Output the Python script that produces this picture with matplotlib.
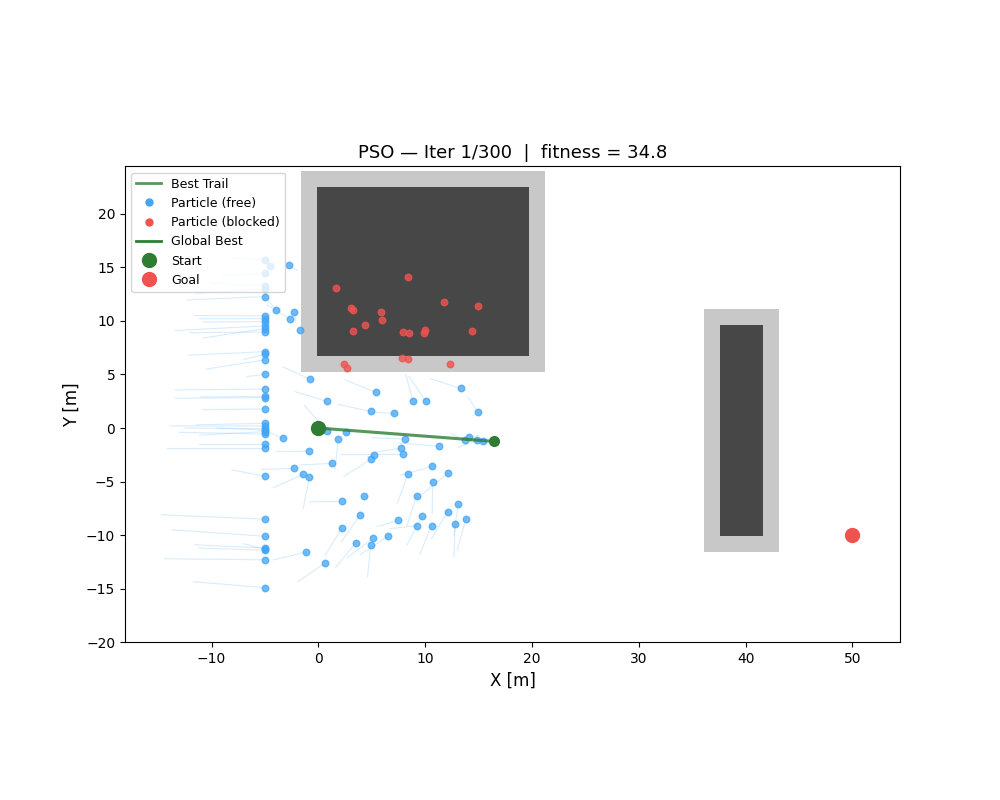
import matplotlib
matplotlib.use("Agg")
import matplotlib.pyplot as plt
from matplotlib.patches import Rectangle
from matplotlib.lines import Line2D

# ---------------- data ----------------
start = (0.0, 0.0)
goal = (50.0, -10.0)
gbest = (16.45, -1.25)
best_trail_x = [0.0, 16.45]
best_trail_y = [0.0, -1.25]

# obstacles: (x0, y0, width, height) core ; inflation margin
obstacles = [(-0.1, 6.75, 19.8, 15.75), (37.6, -10.05, 4.0, 19.65)]
margin = 1.5

# free particles: current x, y and previous x, y (tail)
free_x = [-5, -5, -5, -5, -5, -5, -5, -5, -5, -5, -5, -5, -5, -5, -5, -5, -5, -5,
          -5, -5, -5, -5, -5, -5, -5, -5, -5, -5, -5, -5, -5, -5, -5, -5, -5,
          -4.53, -2.72, -3.94, -2.26, -2.63, -1.7, -0.81, 5.38, 0.78, 8.85, 10.07,
          13.35, 14.95, 4.9, 7.07, -3.35, 0.8, 2.57, 1.87, 8.1, -0.85, 7.72, 7.9,
          11.29, 4.9, 5.19, 1.3, -2.26, -1.41, -0.85, 10.66, 8.38, 12.13, 13.72,
          14.13, 14.89, 15.41, 2.19, 4.25, 3.88, 2.19, -1.19, 0.6, 3.5, 5.1, 4.9,
          6.5, 7.5, 9.2, 10.7, 9.7, 9.2, 10.6, 12.1, 13.07, 12.8, 13.8]
free_y = [15.7, 14.46, 13.3, 12.95, 12.27, 10.47, 10.21, 9.93, 9.53, 9.28, 8.97,
          7.13, 6.88, 6.36, 5.01, 3.64, 2.84, 2.95, 1.78, 0.44, 0.19, -0.06, -0.34,
          -0.56, -1.5, -1.9, -4.5, -8.5, -10.1, -11.2, -11.4, -11.3, -12.3, -14.9,
          -0.2,
          15.14, 15.23, 11.03, 10.81, 10.15, 9.15, 4.58, 3.33, 2.5, 2.5, 2.5,
          3.7, 1.46, 1.55, 1.37, -0.95, -0.25, -0.4, -1.05, -1.03, -2.17, -1.87, -2.46,
          -1.71, -2.93, -2.55, -3.3, -3.77, -4.33, -4.61, -3.58, -4.33, -4.23, -1.15,
          -0.87, -1.12, -1.24, -6.85, -6.38, -8.16, -9.37, -11.6, -12.6, -10.7, -10.3, -10.96,
          -10.1, -8.6, -6.3, -5.0, -8.25, -9.1, -9.1, -7.8, -7.1, -9.0, -8.5]
prev_x = [-8, -9, -10, -11.5, -12.3, -11.55, -11.1, -10.8, -13.4, -10.8, -12.0,
          -12.15, -7.0, -10.5, -6.7, -13.4, -13.4, -11.0, -10.9, -11.4, -13.9, -12.5, -11.1,
          -13.0, -11.2, -14.2, -8.1, -14.7, -13.7, -11.55, -11.2, -7.0, -14.4, -11.7,
          -9.5,
          -4.0, -2.0, -5.0, -2.1, -4.8, -1.6, -3.3, 2.5, -2.2, 8.2, 8.5,
          10.5, 14.0, 1.9, 4.9, -4.7, -1.3, 3.0, 1.55, 5.0, -3.9, 5.0, 2.06,
          7.5, 2.4, 4.6, -1.72, -5.3, -4.2, -1.41, 7.7, 7.4, 9.7, 12.5,
          15.0, 13.1, 15.8, -0.8, 4.4, 2.16, 0.62, -4.2, -1.9, 1.6, 2.7, 4.6,
          3.94, 5.5, 8.3, 10.66, 8.3, 6.7, 9.5, 10.6, 12.7, 12.7, 13.0]
prev_y = [15.9, 14.2, 13.5, 12.6, 11.96, 10.5, 10.2, 9.9, 9.1, 8.4, 8.9,
          6.8, 6.4, 5.5, 4.8, 3.55, 2.78, 2.9, 1.7, 0.3, 0.2, 0.0, -0.65,
          -0.4, -1.5, -1.9, -3.9, -8.1, -9.5, -10.9, -11.2, -10.8, -12.2, -14.35,
          0.0,
          15.0, 14.7, 12.2, 9.9, 11.5, 9.3, 5.7, 4.5, 3.4, 5.0, 4.8,
          4.6, 2.9, 2.2, 1.5, -0.35, 2.1, -0.3, -3.85, -0.9, -2.2, -2.3, -2.46,
          -1.4, -4.5, -2.7, -3.45, -3.86, -5.55, -7.5, -4.4, -7.0, -6.2, -0.55,
          -0.7, -1.8, -1.2, -6.9, -6.4, -10.6, -11.9, -12.3, -14.35, -13.05, -12.1, -13.9,
          -11.8, -9.2, -9.1, -8.0, -10.9, -9.4, -11.8, -10.3, -10.0, -12.0, -11.4]

# blocked particles
blocked_x = [1.63, 8.38, 3.04, 3.22, 5.85, 5.94, 4.35, 3.22, 11.76, 14.95, 7.88,
             8.47, 9.97, 9.88, 14.38, 2.37, 2.66, 7.79, 8.38, 12.32]
blocked_y = [13.05, 14.08, 11.2, 11.0, 10.8, 10.06, 9.6, 9.03, 11.75, 11.37, 8.94,
             8.85, 9.13, 8.85, 9.03, 5.98, 5.58, 6.51, 6.42, 5.95]

title = "PSO — Iter 1/300  |  fitness = 34.8"

# ---------------- plot ----------------
fig = plt.figure(figsize=(10, 8), dpi=100)
ax = fig.add_axes([0.125, 157.7 / 800, 0.775, 476.0 / 800])

for (x0, y0, w, h) in obstacles:
    ax.add_patch(Rectangle((x0 - margin, y0 - margin), w + 2 * margin, h + 2 * margin,
                           facecolor="#c8c8c8", edgecolor="none", zorder=1))
    ax.add_patch(Rectangle((x0, y0), w, h, facecolor="#474747", edgecolor="none", zorder=2))

for px, py, qx, qy in zip(prev_x, prev_y, free_x, free_y):
    ax.plot([px, qx], [py, qy], color="#90caf9", alpha=0.35, lw=0.8, zorder=3)

ax.plot(best_trail_x, best_trail_y, color="#2e7d32", alpha=0.8, lw=2.2, zorder=5,
        label="Best Trail")
ax.scatter(free_x, free_y, s=22, color="#42a5f5", alpha=0.75, zorder=4,
           label="Particle (free)")
ax.scatter(blocked_x, blocked_y, s=22, color="#ef5350", alpha=0.8, zorder=4,
           label="Particle (blocked)")
ax.plot([gbest[0]], [gbest[1]], "o", color="#2e7d32", ms=7, zorder=6)
ax.plot(start[0], start[1], "o", color="#2e7d32", ms=10, zorder=6)
ax.plot(goal[0], goal[1], "o", color="#ef5350", ms=10, zorder=6)

handles = [
    Line2D([], [], color="#2e7d32", alpha=0.8, lw=2, label="Best Trail"),
    Line2D([], [], ls="none", marker="o", color="#42a5f5", ms=5, label="Particle (free)"),
    Line2D([], [], ls="none", marker="o", color="#ef5350", ms=5, label="Particle (blocked)"),
    Line2D([], [], color="#2e7d32", lw=2, label="Global Best"),
    Line2D([], [], ls="none", marker="o", color="#2e7d32", ms=10, label="Start"),
    Line2D([], [], ls="none", marker="o", color="#ef5350", ms=10, label="Goal"),
]
ax.legend(handles=handles, loc="upper left", fontsize=9)

ax.set_xlim(-18.1, 54.45)
ax.set_ylim(-20, 24.43)
ax.set_xticks([-10, 0, 10, 20, 30, 40, 50])
ax.set_yticks([-20, -15, -10, -5, 0, 5, 10, 15, 20])
ax.set_xlabel("X [m]", fontsize=12)
ax.set_ylabel("Y [m]", fontsize=12)
ax.set_title(title, fontsize=13)

fig.savefig("out.png", dpi=100)
